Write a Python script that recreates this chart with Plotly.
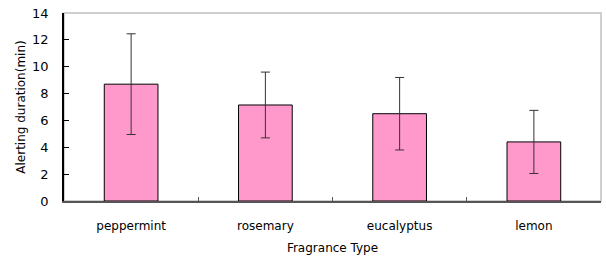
import plotly.graph_objects as go

categories = ["peppermint", "rosemary", "eucalyptus", "lemon"]
values = [8.7, 7.15, 6.5, 4.4]
errors = [3.75, 2.45, 2.7, 2.35]
y_ticks = [0, 2, 4, 6, 8, 10, 12, 14]

fig = go.Figure()
fig.add_trace(go.Bar(
    x=categories, y=values,
    marker=dict(color="#FF99CC", line=dict(color="#000000", width=1)),
    error_y=dict(type="data", array=errors, visible=True, color="#333333",
                 thickness=1, width=4.5),
))

fig.add_shape(type="rect", xref="paper", yref="paper", x0=0, x1=1, y0=0, y1=1,
              line=dict(color="#c0c0c0", width=1.5), layer="below")

fig.update_layout(
    width=606, height=260,
    margin=dict(l=64, r=5, t=13, b=59),
    paper_bgcolor="white", plot_bgcolor="white",
    bargap=0.6, showlegend=False,
    font=dict(family="DejaVu Sans, Verdana, sans-serif", size=12, color="#000000"),
    xaxis=dict(
        title=dict(text="Fragrance Type", font=dict(size=12), standoff=11),
        automargin=False,
        showline=True, linecolor="#555555", linewidth=1.5,
        ticks="inside", ticklen=4, tickcolor="#555555", tickson="boundaries",
        ticklabelstandoff=13, showgrid=False,
    ),
    yaxis=dict(
        title=dict(text="Alerting duration(min)", font=dict(size=12), standoff=4),
        automargin=False,
        range=[0, 14], tickvals=y_ticks, showline=True, linecolor="#000000",
        linewidth=1.5, ticks="inside", ticklen=5, tickcolor="#000000",
        ticklabelstandoff=11, showgrid=False, zeroline=False,
        tickfont=dict(size=13),
    ),
)

fig.write_html("out.html", config={"displayModeBar": False},
               post_script="document.body.style.margin='0';document.body.style.overflow='hidden';")
